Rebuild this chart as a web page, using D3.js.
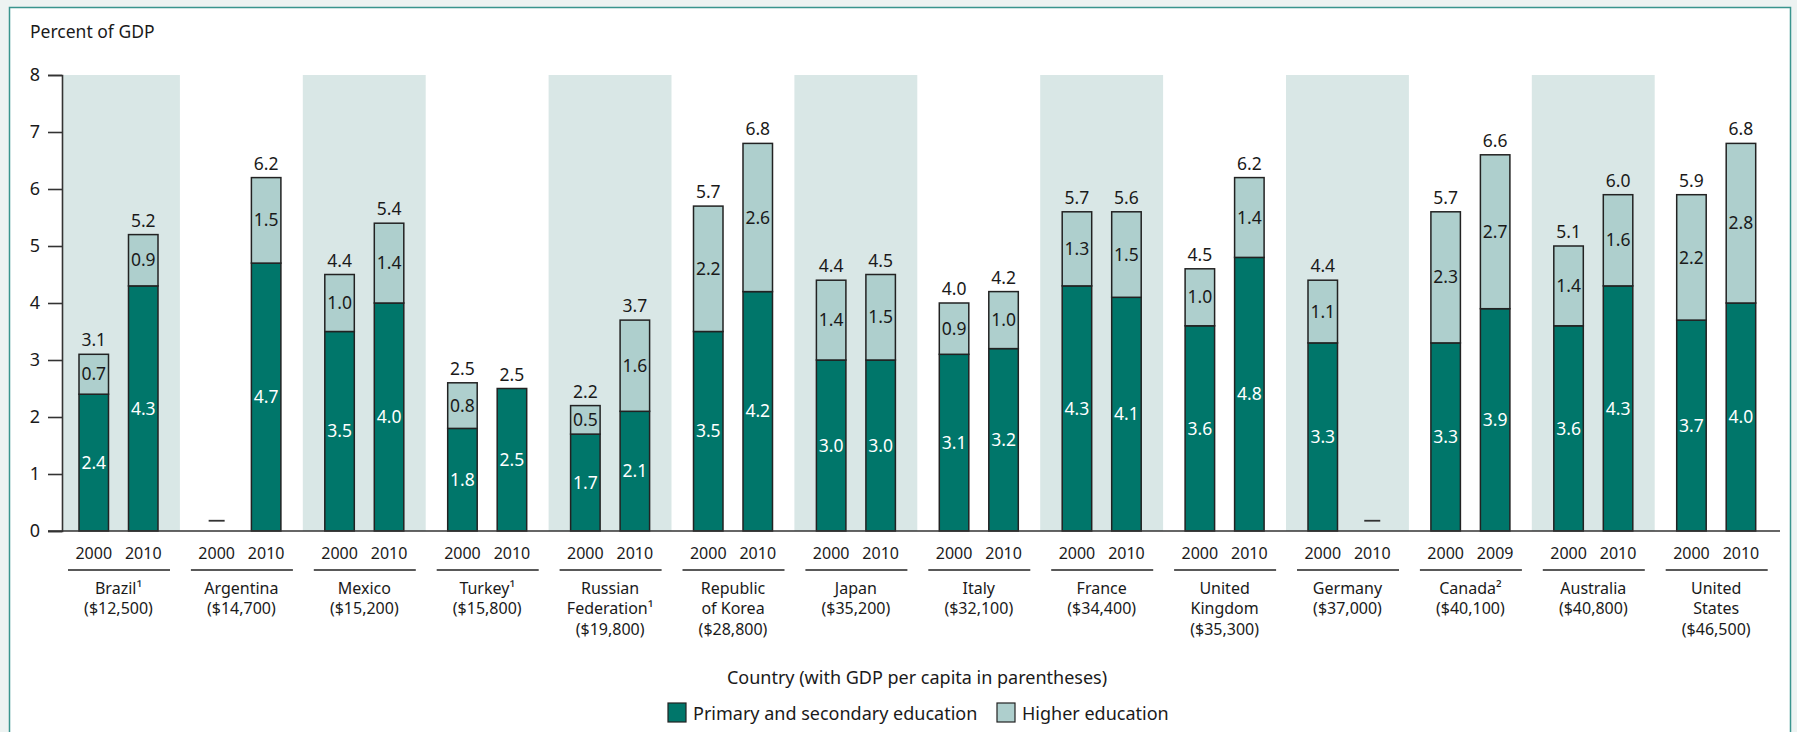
<!DOCTYPE html>
<html>
<head>
<meta charset="utf-8">
<script src="https://cdn.jsdelivr.net/npm/d3@7"></script>
<style>
  html, body { margin: 0; padding: 0; background: #edf3f2; }
  svg text { font-family: "Noto Sans", "Open Sans", sans-serif; fill: #1a1a1a; }
</style>
</head>
<body>
<svg id="chart" width="1797" height="732"></svg>
<script>
const w = 1797;
const h = 732;

// data
const countries = ["Brazil", "Argentina", "Mexico", "Turkey", "Russian Federation", "Republic of Korea", "Japan", "Italy", "France", "United Kingdom", "Germany", "Canada", "Australia", "United States"];
const countryLines = [
    ["Brazil¹", "($12,500)"],
    ["Argentina", "($14,700)"],
    ["Mexico", "($15,200)"],
    ["Turkey¹", "($15,800)"],
    ["Russian", "Federation¹", "($19,800)"],
    ["Republic", "of Korea", "($28,800)"],
    ["Japan", "($35,200)"],
    ["Italy", "($32,100)"],
    ["France", "($34,400)"],
    ["United", "Kingdom", "($35,300)"],
    ["Germany", "($37,000)"],
    ["Canada²", "($40,100)"],
    ["Australia", "($40,800)"],
    ["United", "States", "($46,500)"]
];
const years = [
    ["2000", "2010"], ["2000", "2010"], ["2000", "2010"], ["2000", "2010"], ["2000", "2010"],
    ["2000", "2010"], ["2000", "2010"], ["2000", "2010"], ["2000", "2010"], ["2000", "2010"],
    ["2000", "2010"], ["2000", "2009"], ["2000", "2010"], ["2000", "2010"]
];
// [first year, second year]; null = no data
const primary = [[2.4, 4.3], [null, 4.7], [3.5, 4.0], [1.8, 2.5], [1.7, 2.1], [3.5, 4.2], [3.0, 3.0],
                 [3.1, 3.2], [4.3, 4.1], [3.6, 4.8], [3.3, null], [3.3, 3.9], [3.6, 4.3], [3.7, 4.0]];
const higher = [[0.7, 0.9], [null, 1.5], [1.0, 1.4], [0.8, null], [0.5, 1.6], [2.2, 2.6], [1.4, 1.5],
                [0.9, 1.0], [1.3, 1.5], [1.0, 1.4], [1.1, null], [2.3, 2.7], [1.4, 1.6], [2.2, 2.8]];
const totals = [["3.1", "5.2"], [null, "6.2"], ["4.4", "5.4"], ["2.5", "2.5"], ["2.2", "3.7"], ["5.7", "6.8"], ["4.4", "4.5"],
                ["4.0", "4.2"], ["5.7", "5.6"], ["4.5", "6.2"], ["4.4", null], ["5.7", "6.6"], ["5.1", "6.0"], ["5.9", "6.8"]];
const yTicks = [0, 1, 2, 3, 4, 5, 6, 7, 8];
const legendLabels = ["Primary and secondary education", "Higher education"];

const darkColor = "#00766a";
const lightColor = "#aecfcd";
const bandColor = "#d9e7e6";

const svg = d3.select("#chart");

// frame
svg.append("rect")
   .attr("x", 9.5).attr("y", 7.5)
   .attr("width", w - 16).attr("height", h + 20)
   .attr("fill", "#fff")
   .attr("stroke", "#3a958e")
   .attr("stroke-width", 1.5);

// scales
const xScale = d3.scaleBand()
                .domain(countries)
                .range([57, 1777.6])
                .paddingInner(0);

const inner = d3.scaleBand()
                .domain([0, 1])
                .range([22, 101])
                .paddingInner(0.404);

const yScale = d3.scaleLinear()
                .domain([0, 8])
                .range([531, 75]);

// clip the bands to the plot area (right of the y axis)
svg.append("clipPath")
   .attr("id", "plot-clip")
   .append("rect")
   .attr("x", 63).attr("y", 0)
   .attr("width", 1720).attr("height", h);

// alternate background bands
svg.append("g")
   .attr("clip-path", "url(#plot-clip)")
   .selectAll(".band")
   .data(countries.filter((d, i) => i % 2 === 0))
   .enter()
   .append("rect")
   .attr("class", "band")
   .attr("x", d => xScale(d))
   .attr("y", yScale(8))
   .attr("width", xScale.bandwidth())
   .attr("height", yScale(0) - yScale(8))
   .attr("fill", bandColor);

// y axis
const yAxis = d3.axisLeft(yScale)
                .tickValues(yTicks)
                .tickSize(14)
                .tickPadding(8)
                .tickFormat(d3.format("d"));

const gy = svg.append("g")
   .attr("transform", "translate(62, 0)")
   .call(yAxis);
gy.select(".domain").attr("stroke", "#333").attr("stroke-width", 1.6);
gy.selectAll(".tick line").attr("stroke", "#333").attr("stroke-width", 1.6);
gy.selectAll(".tick text").style("font-size", "18px").attr("fill", "#1a1a1a");

// bars
const bars = [];
countries.forEach((c, i) => {
    [0, 1].forEach(j => {
        bars.push({country: c, i: i, j: j,
                   p: primary[i][j], hi: higher[i][j], total: totals[i][j]});
    });
});

const barX = d => xScale(d.country) + inner(d.j);
const bw = inner.bandwidth();

const g = svg.append("g");

g.selectAll(".bar-p")
   .data(bars.filter(d => d.p != null))
   .enter()
   .append("rect")
   .attr("x", barX)
   .attr("y", d => yScale(d.p))
   .attr("width", bw)
   .attr("height", d => yScale(0) - yScale(d.p))
   .attr("fill", darkColor)
   .attr("stroke", "#222")
   .attr("stroke-width", 1.5);

g.selectAll(".bar-h")
   .data(bars.filter(d => d.hi != null))
   .enter()
   .append("rect")
   .attr("x", barX)
   .attr("y", d => yScale(d.p + d.hi))
   .attr("width", bw)
   .attr("height", d => yScale(d.p) - yScale(d.p + d.hi))
   .attr("fill", lightColor)
   .attr("stroke", "#222")
   .attr("stroke-width", 1.5);

// dashes where there is no data
g.selectAll(".nodata")
   .data(bars.filter(d => d.p == null))
   .enter()
   .append("line")
   .attr("x1", d => barX(d) + bw / 2 - 8)
   .attr("x2", d => barX(d) + bw / 2 + 8)
   .attr("y1", yScale(0.18))
   .attr("y2", yScale(0.18))
   .attr("stroke", "#333")
   .attr("stroke-width", 1.8);

// labels inside bars
g.selectAll(".lab-p")
   .data(bars.filter(d => d.p != null))
   .enter()
   .append("text")
   .attr("x", d => barX(d) + bw / 2)
   .attr("y", d => yScale(d.p / 2))
   .attr("dy", "0.35em")
   .attr("text-anchor", "middle")
   .style("font-size", "17.5px")
   .style("fill", "#fff")
   .text(d => d.p.toFixed(1));

g.selectAll(".lab-h")
   .data(bars.filter(d => d.hi != null))
   .enter()
   .append("text")
   .attr("x", d => barX(d) + bw / 2)
   .attr("y", d => yScale(d.p + d.hi / 2))
   .attr("dy", "0.35em")
   .attr("text-anchor", "middle")
   .style("font-size", "17.5px")
   .text(d => d.hi.toFixed(1));

g.selectAll(".lab-t")
   .data(bars.filter(d => d.total != null))
   .enter()
   .append("text")
   .attr("x", d => barX(d) + bw / 2)
   .attr("y", d => yScale(d.p + (d.hi || 0)) - 8)
   .attr("text-anchor", "middle")
   .style("font-size", "17.5px")
   .text(d => d.total);

// x axis baseline
svg.append("line")
   .attr("x1", 48).attr("x2", 1780)
   .attr("y1", yScale(0)).attr("y2", yScale(0))
   .attr("stroke", "#333")
   .attr("stroke-width", 1.6);

// year labels
g.selectAll(".year")
   .data(bars)
   .enter()
   .append("text")
   .attr("x", d => barX(d) + bw / 2)
   .attr("y", 559)
   .attr("text-anchor", "middle")
   .style("font-size", "16px")
   .text(d => years[d.i][d.j]);

// country groups
const groups = svg.selectAll(".country")
   .data(countries)
   .enter()
   .append("g")
   .attr("transform", d => `translate(${xScale(d)}, 0)`);

groups.append("line")
   .attr("x1", 11).attr("x2", 113)
   .attr("y1", 570).attr("y2", 570)
   .attr("stroke", "#222")
   .attr("stroke-width", 1.5);

groups.each(function(d, i) {
    const t = d3.select(this).append("text")
        .attr("text-anchor", "middle")
        .style("font-size", "16px");
    countryLines[i].forEach((line, k) => {
        t.append("tspan")
         .attr("x", 61.5)
         .attr("y", 593.5 + k * 20.5)
         .text(line);
    });
});

// axis title
svg.append("text")
   .attr("x", 917)
   .attr("y", 684)
   .attr("text-anchor", "middle")
   .style("font-size", "18px")
   .text("Country (with GDP per capita in parentheses)");

// legend
const legend = svg.append("g");
const legendX = [668, 997];
const legendColors = [darkColor, lightColor];
legendLabels.forEach((label, i) => {
    legend.append("rect")
          .attr("x", legendX[i]).attr("y", 703)
          .attr("width", 18).attr("height", 19)
          .attr("fill", legendColors[i])
          .attr("stroke", "#222")
          .attr("stroke-width", 1.2);
    legend.append("text")
          .attr("x", legendX[i] + 25)
          .attr("y", 720)
          .style("font-size", "18px")
          .text(label);
});

// title
svg.append("text")
   .attr("x", 30)
   .attr("y", 38)
   .style("font-size", "17.5px")
   .text("Percent of GDP");
</script>
</body>
</html>
